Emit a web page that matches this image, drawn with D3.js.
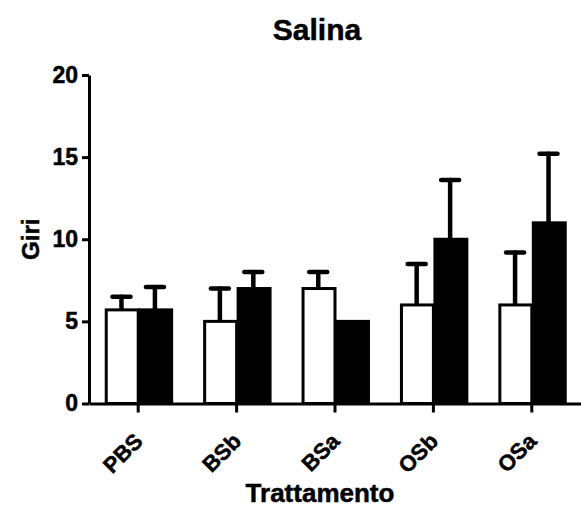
<!DOCTYPE html>
<html>
<head>
<meta charset="utf-8">
<script src="https://cdn.jsdelivr.net/npm/d3@7"></script>
<style>
  body { margin: 0; background: #fff; }
  text { font-family: "Liberation Sans", Arial, sans-serif; font-weight: bold; fill: #000; stroke: #000; stroke-width: 0.5px; }
</style>
</head>
<body>
<div class="chart-container"></div>
<script>
const categories = ["PBS", "BSb", "BSa", "OSb", "OSa"];
const series = ["bianco", "nero"];
const valuesWhite = [5.7, 5.0, 7.0, 6.0, 6.0];
const errorsWhite = [0.8, 2.0, 1.0, 2.5, 3.2];
const valuesBlack = [5.7, 7.0, 5.0, 10.0, 11.0];
const errorsBlack = [1.4, 1.0, 0, 3.6, 4.2];
const yTicks = [0, 5, 10, 15, 20];

const width = 581, height = 508;
const margin = {top: 75, right: 0, bottom: 104, left: 89};

const svg = d3.select(".chart-container")
  .append("svg")
  .attr("width", width)
  .attr("height", height);

const data = categories.map((c, i) => ({
  cat: c,
  bars: [
    {s: series[0], v: valuesWhite[i], e: errorsWhite[i]},
    {s: series[1], v: valuesBlack[i], e: errorsBlack[i]}
  ]
}));

const x = d3.scaleBand()
  .domain(categories)
  .range([margin.left, width - margin.right])
  .paddingInner(0.32)
  .paddingOuter(0.16);

const xs = d3.scaleBand()
  .domain(series)
  .range([0, x.bandwidth()]);

const y = d3.scaleLinear()
  .domain([0, 20])
  .range([height - margin.bottom - 0.5, margin.top]);

const color = d3.scaleOrdinal().domain(series).range(["#fff", "#000"]);

// barre
const group = svg.append("g")
  .selectAll("g")
  .data(data)
  .enter().append("g")
  .attr("transform", d => `translate(${x(d.cat)},0)`);

// barre d'errore (dietro alle barre)
const err = group.selectAll("g.err")
  .data(d => d.bars.filter(b => b.e > 0))
  .enter().append("g")
  .attr("class", "err")
  .attr("stroke", "#000")
  .attr("stroke-width", 4.5)
  .attr("stroke-linecap", "round");

err.append("line")
  .attr("x1", d => xs(d.s) + xs.bandwidth() / 2)
  .attr("x2", d => xs(d.s) + xs.bandwidth() / 2)
  .attr("y1", d => y(d.v))
  .attr("y2", d => y(d.v + d.e));

err.append("line")
  .attr("x1", d => xs(d.s) + xs.bandwidth() / 2 - 9)
  .attr("x2", d => xs(d.s) + xs.bandwidth() / 2 + 9)
  .attr("y1", d => y(d.v + d.e))
  .attr("y2", d => y(d.v + d.e));

group.selectAll("rect")
  .data(d => d.bars)
  .enter().append("rect")
  .attr("x", d => xs(d.s) + 1.5)
  .attr("width", xs.bandwidth() - 1.5)
  .attr("y", d => y(d.v))
  .attr("height", d => y(0) - y(d.v))
  .attr("fill", d => color(d.s))
  .attr("stroke", "#000")
  .attr("stroke-width", 3);

// assi
const yAxis = svg.append("g")
  .attr("transform", `translate(${margin.left},0)`)
  .call(d3.axisLeft(y).tickValues(yTicks).tickSize(7).tickSizeOuter(0).tickPadding(4));

const xAxis = svg.append("g")
  .attr("transform", `translate(0,${y(0)})`)
  .call(d3.axisBottom(x).tickSize(9).tickSizeOuter(0).tickFormat(""));

[yAxis, xAxis].forEach(a => {
  a.attr("font-family", null).attr("font-size", null);
  a.select(".domain").attr("stroke", "#000").attr("stroke-width", 3);
  a.selectAll(".tick line").attr("stroke", "#000").attr("stroke-width", 3);
});

yAxis.selectAll(".tick text")
  .style("font-size", "23px");

xAxis.selectAll(".tick")
  .append("text")
  .attr("text-anchor", "end")
  .attr("transform", "translate(6,39) rotate(-45)")
  .style("font-size", "22px")
  .text(d => d);

// titoli
svg.append("text")
  .attr("x", 317)
  .attr("y", 40)
  .attr("text-anchor", "middle")
  .style("font-size", "30px")
  .text("Salina");

svg.append("text")
  .attr("transform", `translate(39,${(y(0) + y(20)) / 2}) rotate(-90)`)
  .attr("text-anchor", "middle")
  .style("font-size", "24px")
  .text("Giri");

svg.append("text")
  .attr("x", 320)
  .attr("y", 502)
  .attr("text-anchor", "middle")
  .style("font-size", "26px")
  .text("Trattamento");
</script>
</body>
</html>
